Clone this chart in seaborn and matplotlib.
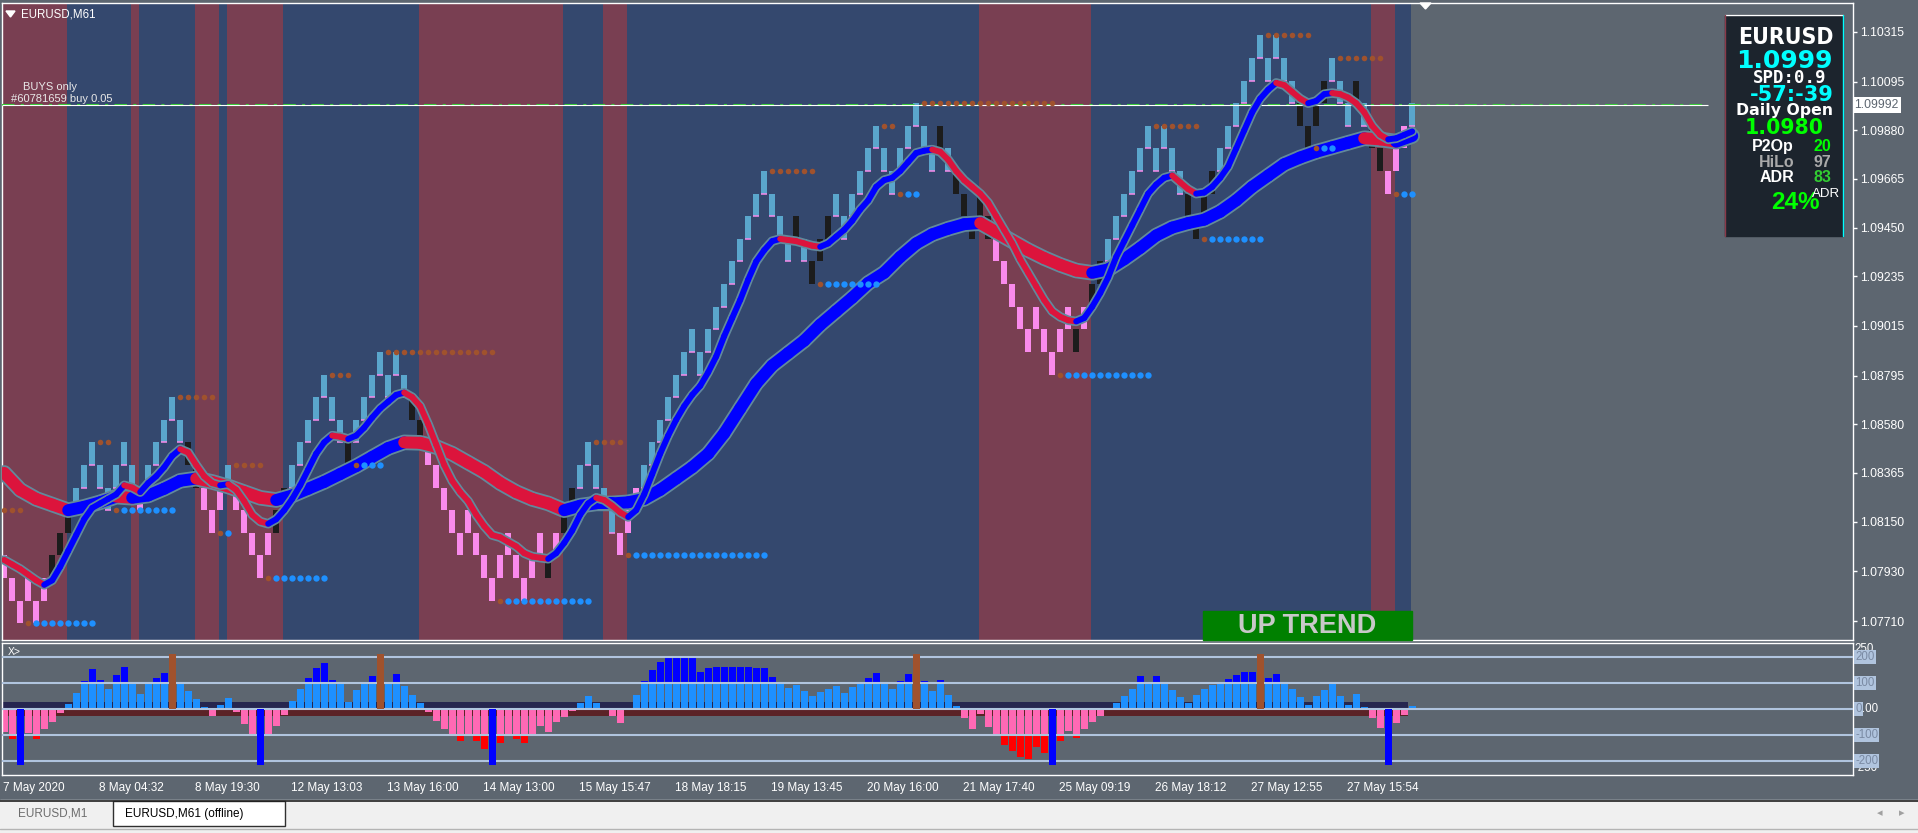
import numpy as np
import pandas as pd
import matplotlib
matplotlib.use("Agg")
import matplotlib.pyplot as plt
from matplotlib import font_manager as fm
from matplotlib.collections import LineCollection
from matplotlib.patches import Rectangle, Polygon
import seaborn as sns

# ---------------- values ----------------
base_price = 1.0770      # price of brick level 0
brick_size = 0.0010      # 10 pip renko

# bottom level of every renko brick (in bricks above base_price)
brick_low = [2, 1, 0, 1, 0, 1, 2, 3, 4, 5, 6, 7, 6, 5, 6, 7, 6, 5, 6, 7,
             8, 9, 8, 7, 6, 5, 4, 5, 6, 5, 4, 3, 2, 3, 4, 5, 6, 7, 8, 9,
             10, 9, 8, 7, 8, 9, 10, 11, 10, 11, 10, 9, 8, 7, 6, 5, 4, 3, 4, 3,
             2, 1, 2, 3, 2, 1, 2, 3, 2, 3, 4, 5, 6, 7, 6, 5, 4, 3, 4, 5,
             6, 7, 8, 9, 10, 11, 12, 11, 12, 13, 14, 15, 16, 17, 18, 19, 18, 17, 16, 17,
             16, 15, 16, 17, 18, 17, 18, 19, 20, 21, 20, 19, 20, 21, 22, 21, 20, 21, 20, 19,
             18, 17, 18, 17, 16, 15, 14, 13, 12, 13, 12, 11, 12, 13, 12, 13, 14, 15, 16, 17,
             18, 19, 20, 21, 20, 21, 20, 19, 18, 17, 18, 19, 20, 21, 22, 23, 24, 25, 24, 25,
             24, 23, 22, 21, 22, 23, 24, 23, 22, 23, 22, 21, 20, 19, 20, 21, 22]

# brick colour class: b = up (light blue), p = down (pink), k = counter brick (black)
brick_kind = ("ppppppkkkbbbbbbbbpbbbbbkkpppbpppppkkbbbbbbbkbbbbbbbkk"
              "pppppppppppppppkpkkbbbbbpppbbbbbbbbbbbbbbbbbbbkbkkk"
              "bbbbbbbbbbbbbkbkkkkkppppppppppkpkkbbbbbbbbbbkkkkbbbbbbbbbb"
              "kkkkbbbkbkkpppbb")

# trend background: first brick of each state
trend_start = [0, 8, 16, 17, 24, 27, 28, 35, 52, 70, 75, 78, 122, 136, 171, 174]
trend_state = ["dn", "up", "dn", "up", "dn", "up", "dn", "up",
               "dn", "up", "dn", "up", "dn", "up", "dn", "up"]

# fast moving average, one value per brick (brick levels)
fast_ma = [2.8, 2.6, 2.4, 2.15, 1.9, 1.7, 1.9, 2.5, 3.2, 3.9,
           4.6, 5.1, 5.3, 5.5, 5.7, 6.1, 6.0, 5.8, 6.2, 6.5,
           6.9, 7.4, 7.7, 7.55, 7.0, 6.5, 6.2, 6.1, 6.15, 5.9,
           5.4, 4.8, 4.5, 4.4, 4.6, 5.0, 5.5, 6.1, 6.8, 7.5,
           8.0, 8.3, 8.25, 8.15, 8.3, 8.65, 9.1, 9.5, 9.8, 10.1,
           10.2, 10.0, 9.6, 8.8, 7.9, 7.0, 6.3, 5.8, 5.4, 4.8,
           4.3, 3.9, 3.8, 3.6, 3.4, 3.1, 2.95, 2.9, 2.85, 3.1,
           3.55, 4.1, 4.8, 5.3, 5.55, 5.45, 5.2, 4.9, 4.7, 5.0,
           5.7, 6.6, 7.5, 8.3, 9.0, 9.6, 10.1, 10.5, 11.1, 11.8,
           12.7, 13.5, 14.3, 15.2, 16.0, 16.5, 16.9, 17.0, 16.95, 16.9,
           16.8, 16.7, 16.65, 16.8, 17.1, 17.4, 17.8, 18.3, 18.7, 19.3,
           19.6, 19.7, 20.0, 20.4, 20.8, 20.9, 20.95, 20.85, 20.5, 20.0,
           19.6, 19.3, 19.0, 18.6, 18.0, 17.4, 16.8, 16.1, 15.5, 14.9,
           14.3, 13.8, 13.55, 13.4, 13.35, 13.5, 14.0, 14.6, 15.3, 16.2,
           16.9, 17.6, 18.3, 19.0, 19.4, 19.7, 19.8, 19.5, 19.2, 19.0,
           19.05, 19.3, 19.7, 20.2, 21.0, 21.8, 22.6, 23.2, 23.6, 23.9,
           23.8, 23.5, 23.2, 23.0, 23.1, 23.4, 23.45, 23.4, 23.25, 23.0,
           22.6, 22.0, 21.6, 21.4, 21.45, 21.6, 21.75]

# slow moving average, every second brick (brick levels)
slow_col = list(range(0, 177, 2))
slow_ma = [6.65, 5.9, 5.5, 5.25, 5.0, 5.15, 5.35, 5.6, 5.55, 5.65,
           5.95, 6.3, 6.4, 6.25, 6.05, 5.8, 5.55, 5.45, 5.65, 5.95,
           6.25, 6.6, 6.95, 7.35, 7.75, 8.0, 7.98, 7.8, 7.5, 7.1,
           6.7, 6.2, 5.8, 5.5, 5.3, 5.0, 5.2, 5.3, 5.3, 5.35,
           5.5, 5.9, 6.4, 6.9, 7.5, 8.4, 9.5, 10.6, 11.4, 11.95,
           12.5, 13.2, 13.8, 14.4, 15.05, 15.5, 16.2, 16.8, 17.2, 17.45,
           17.65, 17.7, 17.3, 16.9, 16.5, 16.15, 15.85, 15.6, 15.5, 15.65,
           16.1, 16.6, 17.15, 17.5, 17.7, 17.85, 18.2, 18.7, 19.3, 19.8,
           20.3, 20.6, 20.85, 21.05, 21.25, 21.45, 21.4, 21.3, 21.55]

# dotted levels: brick level, first brick, number of dots
res_level = [5, 8, 10, 7, 11, 12, 8, 20, 22, 23, 22, 26, 25]
res_start = [0, 12, 22, 29, 41, 48, 74, 96, 110, 115, 144, 158, 167]
res_count = [3, 2, 5, 4, 3, 14, 4, 6, 2, 17, 6, 6, 6]
sup_level = [0, 5, 4, 2, 7, 1, 3, 15, 19, 11, 17, 21, 19]
sup_start = [3, 14, 27, 33, 44, 62, 78, 102, 112, 132, 150, 164, 174]
sup_count = [9, 8, 2, 8, 4, 12, 18, 8, 3, 12, 8, 3, 3]

# oscillator, one bar per brick
osc = [-88, -117, -110, -95, -117, -78, -50, -18, 18, 62,
       106, 153, 110, 76, 130, 162, 97, 56, 97, 117,
       137, 150, 97, 68, 36, 6, -27, 14, 41, -12,
       -58, -97, -100, -97, -65, -23, 29, 76, 119, 156,
       176, 110, 97, 27, 72, 97, 126, 140, 97, 133,
       87, 53, 23, -12, -47, -77, -97, -123, -97, -123,
       -154, -140, -131, -97, -118, -131, -97, -65, -88, -53,
       -31, -8, 23, 49, 23, 0, -27, -54, 0, 53,
       106, 149, 179, 195, 195, 195, 195, 141, 156, 162,
       162, 162, 162, 162, 156, 156, 123, 97, 78, 91,
       68, 49, 65, 76, 88, 62, 82, 97, 118, 137,
       97, 76, 106, 133, 140, 106, 68, 110, 53, 10,
       -35, -78, -19, -72, -106, -138, -164, -184, -195, -146,
       -170, -160, -123, -85, -111, -78, -50, -28, -5, 23,
       49, 76, 127, 97, 127, 97, 72, 44, 23, 53,
       76, 91, 97, 114, 130, 141, 141, 140, 119, 135,
       97, 76, 46, 14, 49, 72, 97, 49, 14, 56,
       5, -35, -73, -60, -54, -24, 10]
sig_top_cols = [21, 47, 114, 157]
sig_bot_cols = [2, 32, 61, 131, 173]
sig_top_val = 210
sig_bot_val = -215
osc_levels = [200, 100, 0, -100, -200]
osc_band = 25

price_ticks = [1.10315, 1.10095, 1.09880, 1.09665, 1.09450, 1.09235, 1.09015,
               1.08795, 1.08580, 1.08365, 1.08150, 1.07930, 1.07710]
bid_price = 1.09992
order_price = 1.09990
time_labels = ["7 May 2020", "8 May 04:32", "8 May 19:30", "12 May 13:03",
               "13 May 16:00", "14 May 13:00", "15 May 15:47", "18 May 18:15",
               "19 May 13:45", "20 May 16:00", "21 May 17:40", "25 May 09:19",
               "26 May 18:12", "27 May 12:55", "27 May 15:54"]

# ---------------- style ----------------
sns.set_style("dark")
plt.rcParams["font.family"] = ["Liberation Sans", "DejaVu Sans"]

GREY = "#5d6670"
BAND = {"dn": "#793f52", "up": "#34486e"}
BRICK = {"b": "#5aa6cc", "p": "#f98aeb", "k": "#1c1c1c"}
MA_UP, MA_DN, MA_EDGE = "#0000ff", "#dc143c", "#62899c"
BROWN, DOT_BLUE = "#a0522d", "#1e90ff"

W, H = 1918, 833
fig = plt.figure(figsize=(W / 100, H / 100), dpi=100)
fig.patch.set_facecolor(GREY)


def frac(x0, y0, x1, y1):
    return [x0 / W, 1 - y1 / H, (x1 - x0) / W, (y1 - y0) / H]


ax = fig.add_axes(frac(2, 3, 1853, 640))
ax2 = fig.add_axes(frac(2, 643, 1853, 775))
for a in (ax, ax2):
    a.set_facecolor(GREY)
    for sp in a.spines.values():
        sp.set_color("white")
        sp.set_linewidth(1)

# column -> pixel: 4.2 + 8*col
xlim = ((2 - 4.2) / 8, (1853 - 4.2) / 8)
p_per_px = (price_ticks[0] - price_ticks[-1]) / (621 - 32)
ylim = (price_ticks[0] - (640 - 32) * p_per_px, price_ticks[0] + (32 - 3) * p_per_px)

n = len(brick_low)
cols = np.arange(n)
lows = base_price + np.array(brick_low) * brick_size

# trend background
edges = [max(s - 0.15, xlim[0]) for s in trend_start] + [n - 1 - 0.15]
for i, st in enumerate(trend_state):
    ax.axvspan(edges[i], edges[i + 1], color=BAND[st], lw=0, zorder=0)

# renko bricks
ax.bar(cols, brick_size, bottom=lows, width=0.76,
       color=[BRICK[k] for k in brick_kind], linewidth=0, zorder=2)
up_cols = [c for c in cols if brick_kind[c] == "b"]
ax.hlines(lows[up_cols], np.array(up_cols) - 0.38, np.array(up_cols) + 0.38,
          color=BRICK["p"], lw=1.1, zorder=2.2)

# price lines
ax.hlines(order_price, xlim[0], 213, color="#32cd32", lw=1.5,
          linestyles=(0, (6, 3, 1.5, 3)), zorder=3)
ax.hlines(bid_price, xlim[0], 213, color="white", lw=0.8, zorder=3.1)


def draw_ma(xs, lv, lw_col, lw_edge, z):
    ys = base_price + np.array(lv) * brick_size
    xs = np.array(xs, dtype=float)
    sns.lineplot(x=xs, y=ys, ax=ax, color=MA_EDGE, linewidth=lw_edge, sort=False,
                 estimator=None, solid_capstyle="round", zorder=z)
    pts = np.column_stack([xs, ys])
    segs = np.stack([pts[:-1], pts[1:]], axis=1)
    seg_col = np.where(np.diff(ys) < -1e-7, MA_DN, MA_UP)
    ax.add_collection(LineCollection(segs, colors=seg_col, linewidths=lw_col,
                                     capstyle="round", joinstyle="round", zorder=z + 0.1))


draw_ma(slow_col, slow_ma, 8.6, 11.2, 4)
draw_ma(cols, fast_ma, 4.3, 6.8, 5)

# dotted levels
rows = []
for lv, st, cnt in zip(res_level, res_start, res_count):
    for c in range(st, st + cnt):
        rows.append((c, base_price + lv * brick_size, "res"))
for lv, st, cnt in zip(sup_level, sup_start, sup_count):
    for j, c in enumerate(range(st, st + cnt)):
        rows.append((c, base_price + lv * brick_size, "res" if j == 0 else "sup"))
dots = pd.DataFrame(rows, columns=["col", "price", "kind"])
sns.scatterplot(data=dots[dots.kind == "res"], x="col", y="price", color=BROWN,
                s=16, linewidth=0, ax=ax, zorder=6, legend=False)
sns.scatterplot(data=dots[dots.kind == "sup"], x="col", y="price", color=DOT_BLUE,
                s=21, linewidth=0, ax=ax, zorder=6, legend=False)

ax.set_xlim(*xlim)
ax.set_ylim(*ylim)
ax.set_xlabel("")
ax.set_ylabel("")
ax.set_xticks([])
ax.yaxis.tick_right()
ax.set_yticks(price_ticks, labels=[f"{p:.5f}" for p in price_ticks])
ax.tick_params(axis="y", colors="white", length=3, width=1, pad=2, labelsize=8.7)
ax.grid(False)

# ---------------- oscillator panel ----------------
osc = np.array(osc, dtype=float)
band_cols = cols[:-1]
ax2.bar(band_cols, osc_band, width=1.0, color="#26264f", lw=0, zorder=1)
ax2.bar(band_cols, -osc_band - 2, width=1.0, color="#5b2226", lw=0, zorder=1)
ax2.bar(cols, np.clip(osc, 0, 100), width=0.86, color="#1e90ff", lw=0, zorder=2)
ax2.bar(cols, np.where(osc > 100, osc - 100, 0), bottom=100, width=0.86,
        color="#0000ff", lw=0, zorder=2)
ax2.bar(cols, np.clip(osc, -100, 0), width=0.86, color="#ff69b4", lw=0, zorder=2)
ax2.bar(cols, np.where(osc < -100, osc + 100, 0), bottom=-100, width=0.86,
        color="#ff0000", lw=0, zorder=2)
for lv in osc_levels:
    ax2.axhline(lv, color="#b0c4de", lw=1.5, zorder=3)
ax2.bar(sig_top_cols, sig_top_val, width=0.86, color=BROWN, lw=0, zorder=4)
ax2.bar(sig_bot_cols, sig_bot_val, width=0.86, color="#0000ff", lw=0, zorder=4)

ax2.set_xlim(*xlim)
ax2.set_ylim(-(775 - 708.7) / 0.26, (708.7 - 643) / 0.26)
ax2.set_yticks([])
ax2.set_xticks([-0.15 + 12 * j for j in range(len(time_labels))], labels=time_labels)
for lbl in ax2.get_xticklabels():
    lbl.set_ha("left")
ax2.tick_params(axis="x", colors="white", length=3.5, width=1, pad=1.5, labelsize=8.5)
ax2.grid(False)

ytr = ax2.get_yaxis_transform()
box = dict(boxstyle="square,pad=0.08", fc="#b0c4de", ec="none")
ax2.text(1.001, 252, "250", transform=ytr, color="white", fontsize=8.3, va="top", ha="left")
ax2.text(1.001, -252, "-250", transform=ytr, color="white", fontsize=8.3, va="bottom", ha="left")
for lv in [200, 100, -100, -200]:
    ax2.text(1.0012, lv, f"{lv}", transform=ytr, color="#7a8aa3", fontsize=8.3,
             va="center", ha="left", bbox=box)
ax2.text(1.0012, 0, "0", transform=ytr, color="#7a8aa3", fontsize=8.3,
         va="center", ha="left", bbox=box)
ax2.text(1.0048, 0, ".00", transform=ytr, color="white", fontsize=8.3, va="center", ha="left")
ax2.text(0.003, 0.93, "X>", transform=ax2.transAxes, color="white", fontsize=7.5, va="center")

# current price label on the price scale
ax.text(1.0008, bid_price, f"{bid_price:.5f}", transform=ax.get_yaxis_transform(),
        color=GREY, fontsize=8.7, va="center", ha="left",
        bbox=dict(boxstyle="square,pad=0.15", fc="white", ec="none"), zorder=10)

# ---------------- overlay in pixel units ----------------
ov = fig.add_axes([0, 0, 1, 1])
ov.set_xlim(0, W)
ov.set_ylim(H, 0)
ov.axis("off")

ov.add_patch(Polygon([(6, 11), (15, 11), (10.5, 17)], color="white"))
ov.text(21, 14, "EURUSD,M61", color="white", fontsize=8.3, va="center")
ov.text(23, 86.5, "BUYS only", color="#e8e8e8", fontsize=8, va="center")
ov.text(11, 98.5, "#60781659 buy 0.05", color="#e8e8e8", fontsize=8, va="center")
ov.add_patch(Polygon([(1420, 3), (1431, 3), (1425.5, 9)], color="white"))

# trend label
ov.add_patch(Rectangle((1203, 611), 209, 29, color="#008000"))
ov.text(1307, 626, "UP TREND", color="#c8c8c8", fontsize=19.5, fontweight="bold",
        ha="center", va="center")

# condensed heavy face for the symbol name, if one is installed
sym_font = None
for fam in ["Liberation Sans Narrow", "DejaVu Sans"]:
    try:
        path = fm.findfont(fm.FontProperties(family=fam, weight="bold", stretch="condensed"),
                           fallback_to_default=False)
    except ValueError:
        continue
    if "Narrow" in path or "Condensed" in path:
        sym_font = fm.FontProperties(fname=path, size=16.5)
        break
if sym_font is None:
    sym_font = fm.FontProperties(family="Liberation Sans", weight="bold", size=16)

# info panel
ov.add_patch(Rectangle((1725, 15), 118, 221, color="#1c242d"))
ov.plot([1725, 1843], [15, 15], color="white", lw=1)
ov.plot([1725, 1725], [15, 236], color="#8b3a4a", lw=1)
ov.plot([1843, 1843], [15, 236], color="#00ffff", lw=1)
ov.text(1786, 37, "EURUSD", color="white", fontproperties=sym_font, ha="center", va="center")
ov.text(1784, 61, "1.0999", color="#00ffff", fontsize=18, fontweight="bold",
        family=["DejaVu Sans"], ha="center", va="center")
ov.text(1790, 77.5, "SPD:0.9", color="white", fontsize=12.5, fontweight="bold",
        family=["DejaVu Sans Mono"], ha="center", va="center")
ov.text(1792, 94.5, "-57:-39", color="#00ffff", fontsize=15, fontweight="bold",
        family=["DejaVu Sans"], ha="center", va="center")
ov.text(1784, 110.5, "Daily Open", color="white", fontsize=11.3, fontweight="bold",
        family=["DejaVu Sans"], ha="center", va="center")
ov.text(1784.5, 127.5, "1.0980", color="#00ff00", fontsize=14.8, fontweight="bold",
        family=["DejaVu Sans"], ha="center", va="center")
for y, name, val, c_name, c_val in [(146, "P2Op", "20", "white", "#00ff00"),
                                     (162, "HiLo", "97", "#a9a9a9", "#a9a9a9"),
                                     (177.5, "ADR", "83", "white", "#32cd32")]:
    ov.text(1794, y, name, color=c_name, fontsize=11.5, fontweight="bold", ha="right", va="center")
    ov.text(1822, y, val, color=c_val, fontsize=11.5, fontweight="bold", ha="center", va="center")
ov.text(1771, 202.5, "24%", color="#00ff00", fontsize=17.5, fontweight="bold", va="center")
ov.text(1812, 194, "ADR", color="white", fontsize=9.5, va="center")

# terminal tab strip
ov.add_patch(Rectangle((0, 800), W, 33, color="#f0f0f0"))
ov.plot([0, W], [800.5, 800.5], color="#202020", lw=1.2)
ov.plot([0, W], [829, 829], color="#b4b4b4", lw=1)
ov.add_patch(Rectangle((113, 801), 172, 25, fc="white", ec="#303030", lw=1))
ov.text(18, 814, "EURUSD,M1", color="#6d6d6d", fontsize=8.5, va="center")
ov.text(125, 814, "EURUSD,M61 (offline)", color="black", fontsize=8.5, va="center")
ov.text(1880, 813, "◂", color="#a0a0a0", fontsize=8, va="center", ha="center")
ov.text(1902, 813, "▸", color="#a0a0a0", fontsize=8, va="center", ha="center")

fig.savefig("out.png", dpi=100, facecolor=fig.get_facecolor())
